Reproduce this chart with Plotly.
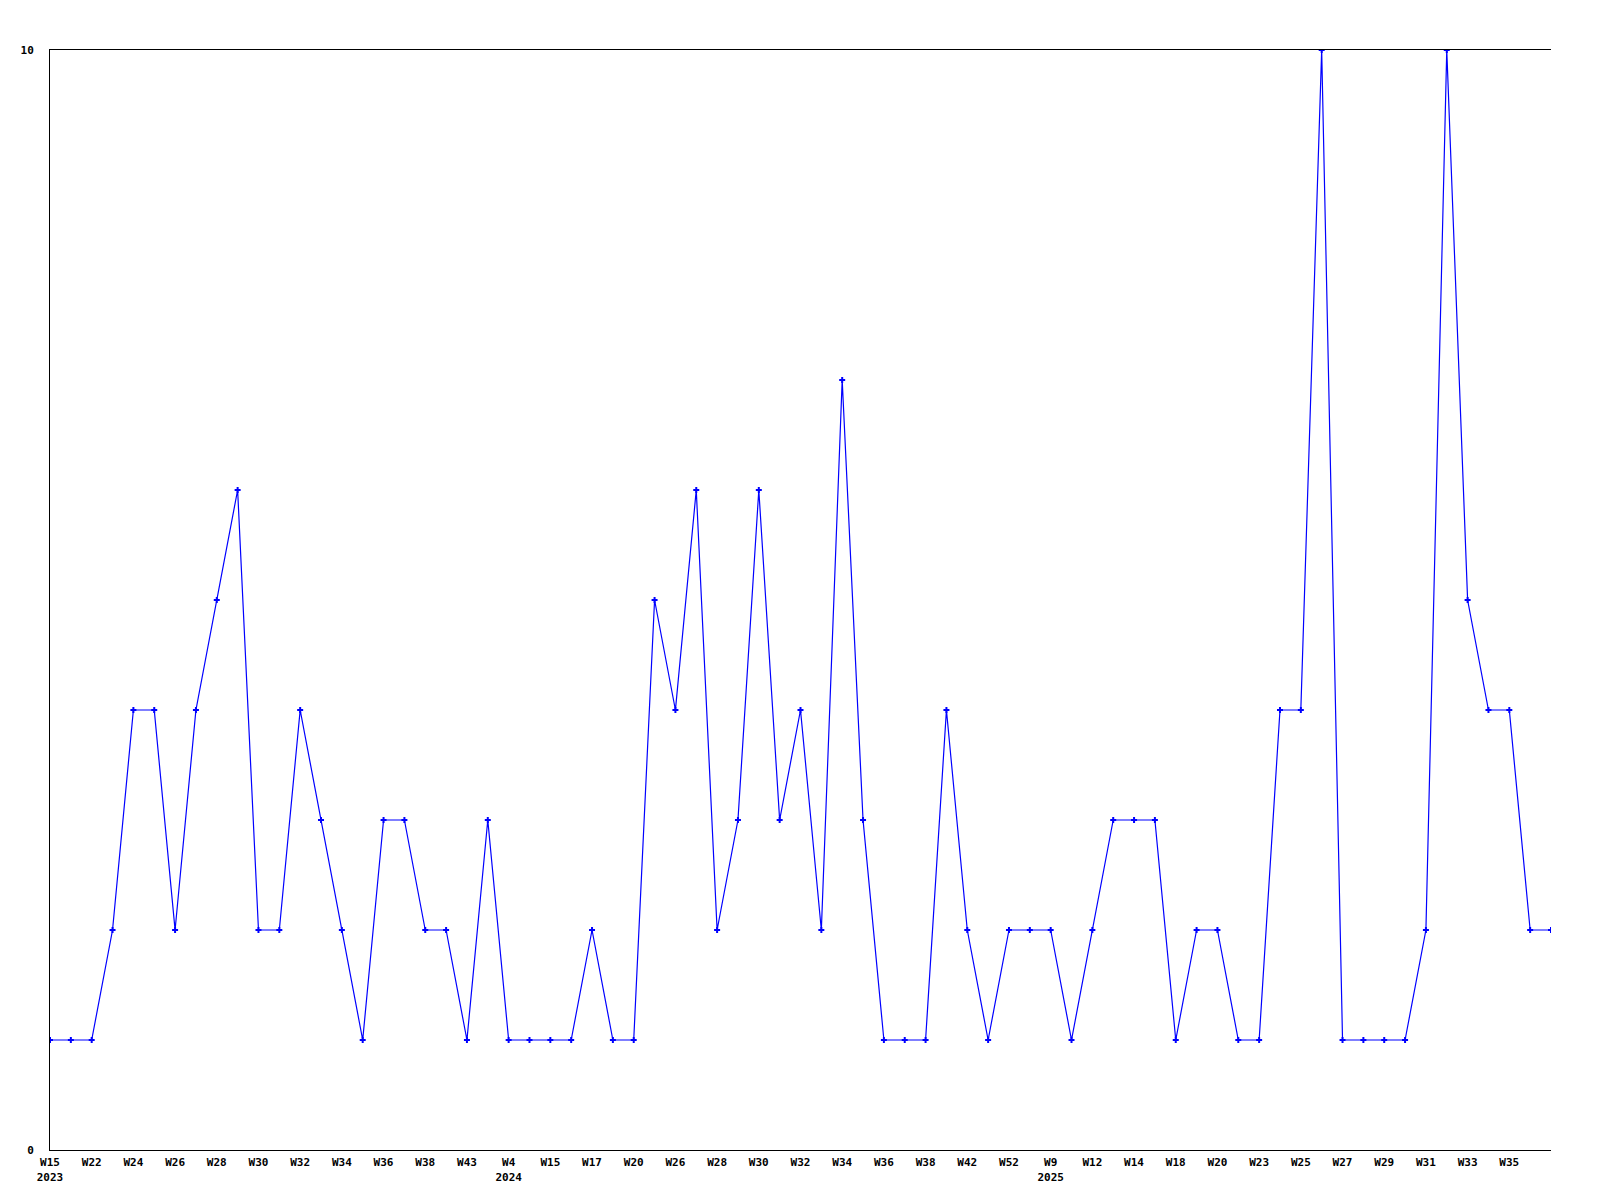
import plotly.graph_objects as go

values = [1, 1, 1, 2, 4, 4, 2, 4, 5, 6, 2, 2, 4, 3, 2, 1, 3, 3, 2, 2,
          1, 3, 1, 1, 1, 1, 2, 1, 1, 5, 4, 6, 2, 3, 6, 3, 4, 2, 7, 3,
          1, 1, 1, 4, 2, 1, 2, 2, 2, 1, 2, 3, 3, 3, 1, 2, 2, 1, 1, 4,
          4, 10, 1, 1, 1, 1, 2, 10, 5, 4, 4, 2, 2]

tick_labels = ["W15<br>2023", "W22", "W24", "W26", "W28", "W30", "W32", "W34",
               "W36", "W38", "W43", "W4<br>2024", "W15", "W17", "W20", "W26",
               "W28", "W30", "W32", "W34", "W36", "W38", "W42", "W52",
               "W9<br>2025", "W12", "W14", "W18", "W20", "W23", "W25", "W27",
               "W29", "W31", "W33", "W35"]

x = list(range(len(values)))
tick_pos = x[::2][:len(tick_labels)]

font = dict(family="DejaVu Sans Mono", size=11, color="black", weight="bold")

fig = go.Figure(go.Scatter(
    x=x, y=values, mode="lines+markers",
    line=dict(color="#0000FF", width=1.2),
    marker=dict(color="#0000FF", size=5, symbol="cross"),
))

fig.update_layout(
    width=1600, height=1200,
    margin=dict(l=42, r=57, t=42, b=58),
    paper_bgcolor="white", plot_bgcolor="white",
    showlegend=False, font=font,
)
fig.update_xaxes(
    range=[0, len(values) - 1], tickvals=tick_pos, ticktext=tick_labels,
    showline=True, linecolor="black", linewidth=1, mirror=True,
    showgrid=False, zeroline=False, ticks="", tickfont=font, tickangle=0,
    ticklabelstandoff=2,
)
fig.update_yaxes(
    range=[0, 10], tickvals=[0, 10], ticktext=["0", "10"],
    showline=True, linecolor="black", linewidth=1,
    showgrid=False, zeroline=False, ticks="", tickfont=font,
    ticklabelstandoff=13,
)

fig.write_html("out.html")
